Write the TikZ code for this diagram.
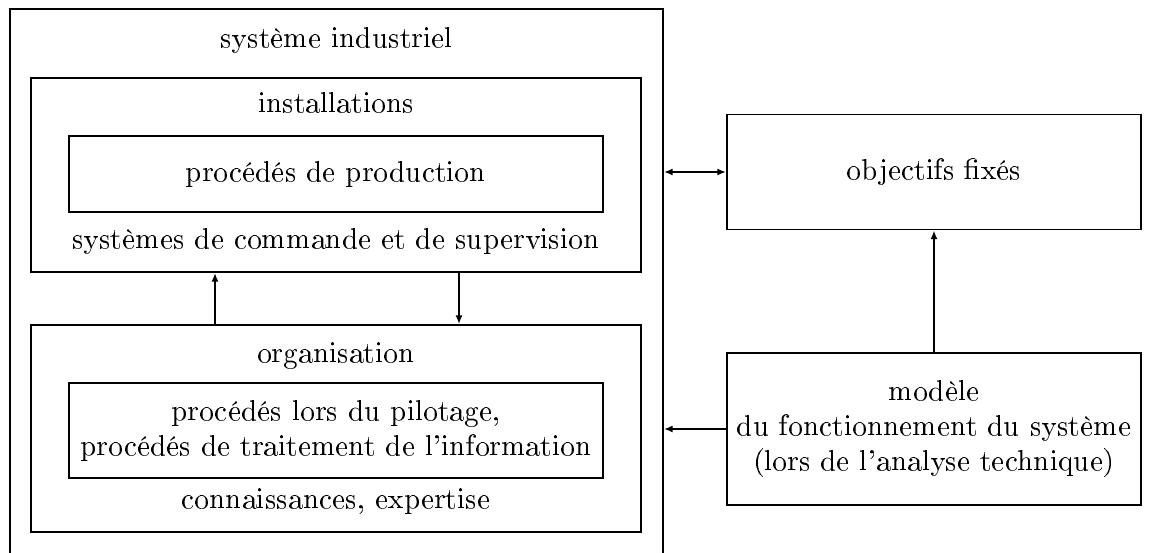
\documentclass[tikz,border=0pt]{standalone}
\usepackage[T1]{fontenc}
\usetikzlibrary{arrows.meta,calc}
\begin{document}
\begin{tikzpicture}[x=0.339pt,y=-0.339pt,
  frame/.style={draw,line width=0.6pt,inner sep=0pt,align=center},
  lbl/.style={inner sep=0pt,align=center,font=\fontsize{10}{12}\selectfont},
  arr/.style={line width=0.6pt,-{Latex[length=3pt,width=2.4pt]}},
  darr/.style={line width=0.6pt,{Latex[length=3pt,width=2.4pt]}-{Latex[length=3pt,width=2.4pt]}}]
\useasboundingbox (0,0) rectangle (1160,553);
% outer box
\node[frame,minimum width={653*0.339pt},minimum height={551*0.339pt}] (outer) at (336.5,284.5) {};
\node[lbl] (titre) at (336.5,40) {système industriel};
% installations
\node[frame,minimum width={610*0.339pt},minimum height={194*0.339pt}] (inst) at (336,175) {};
\node[lbl] (instt) at (336,102) {installations};
\node[frame,lbl,draw,line width=0.6pt,minimum width={534*0.339pt},minimum height={76*0.339pt}] (prod) at (336,174) {procédés de production};
\node[lbl] (cmd) at (336,241) {systèmes de commande et de supervision};
% organisation
\node[frame,minimum width={610*0.339pt},minimum height={207*0.339pt}] (org) at (336,428.5) {};
\node[lbl] (orgt) at (336,356) {organisation};
\node[frame,lbl,draw,line width=0.6pt,minimum width={534*0.339pt},minimum height={95*0.339pt}] (orgin) at (336,430.5) {procédés lors du pilotage,\\procédés de traitement de l'information};
\node[lbl] (conn) at (336,502) {connaissances, expertise};
% right boxes
\node[frame,lbl,draw,line width=0.6pt,minimum width={414*0.339pt},minimum height={115*0.339pt}] (obj) at (934,172) {objectifs fixés};
\node[frame,lbl,draw,line width=0.6pt,minimum width={414*0.339pt},minimum height={152*0.339pt}] (mod) at (934,429) {modèle\\du fonctionnement du système\\(lors de l'analyse technique)};
% connectors
\coordinate (upx) at (215,0);
\coordinate (dnx) at (459,0);
\draw[arr] (org.north -| upx) -- (inst.south -| upx);
\draw[arr] (inst.south -| dnx) -- (org.north -| dnx);
\draw[darr] (outer.east |- obj.west) -- (obj.west);
\draw[arr] (mod.north) -- (obj.south);
\draw[arr] (mod.west) -- (mod.west -| outer.east);
\end{tikzpicture}
\end{document}
